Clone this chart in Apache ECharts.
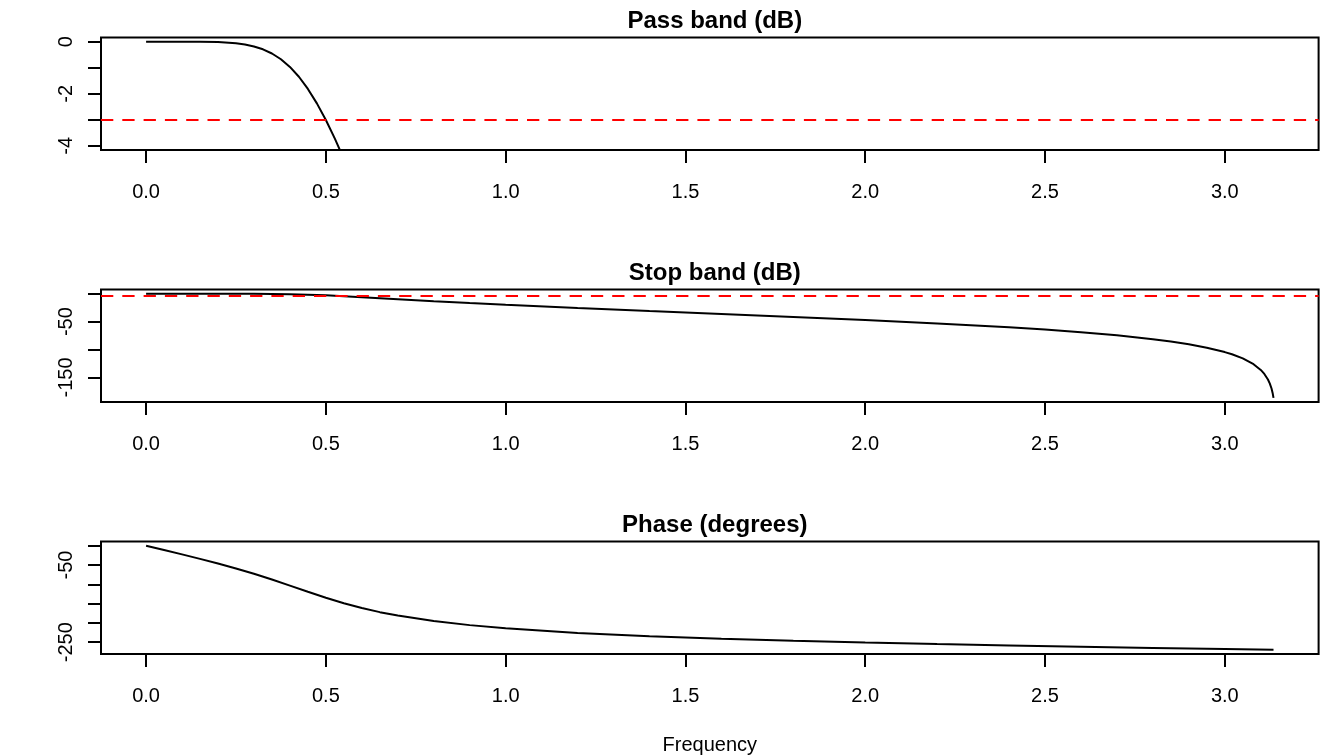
<!DOCTYPE html>
<html>
<head>
<meta charset="utf-8">
<title>Filter response</title>
<script src="https://cdn.jsdelivr.net/npm/echarts@6/dist/echarts.min.js"></script>
<style>
  html, body { margin: 0; padding: 0; background: #fff; }
  #chart { width: 1344px; height: 756px; }
</style>
</head>
<body>
<div id="chart"></div>
<script>
// values (frequency in rad/sample)
const passFreq = [0, 0.05, 0.1, 0.15, 0.2, 0.25, 0.275, 0.3, 0.325, 0.35, 0.375, 0.4, 0.425, 0.45, 0.475, 0.5, 0.525, 0.55, 0.575];
const passDb = [0, 0, -0.0002, -0.003, -0.016, -0.061, -0.109, -0.183, -0.294, -0.454, -0.676, -0.970, -1.348, -1.815, -2.370, -3.010, -3.725, -4.503, -5.345];

const stopFreq = [0, 0.1, 0.2, 0.3, 0.4, 0.5, 0.6, 0.7, 0.8, 0.9, 1.0, 1.2, 1.4, 1.6, 1.8, 2.0, 2.2, 2.4, 2.5, 2.6, 2.7, 2.8, 2.85, 2.9, 2.95, 3.0, 3.02, 3.05, 3.08, 3.1, 3.11, 3.12, 3.125, 3.13, 3.133, 3.1355];
const stopDb = [0, -0.0002, -0.016, -0.183, -0.970, -3.010, -6.192, -9.794, -13.346, -16.706, -19.864, -25.694, -31.103, -36.335, -41.598, -47.117, -53.171, -60.190, -64.283, -68.966, -74.505, -81.367, -85.56, -90.522, -96.61, -104.529, -108.51, -115.905, -126.26, -136.49, -143.66, -153.58, -160.44, -169.78, -177.59, -186.4];

const phaseFreq = [0, 0.05, 0.1, 0.15, 0.2, 0.25, 0.3, 0.35, 0.4, 0.45, 0.5, 0.55, 0.6, 0.65, 0.7, 0.8, 0.9, 1.0, 1.2, 1.4, 1.6, 1.8, 2.0, 2.2, 2.4, 2.6, 2.8, 3.0, 3.1355];
const phaseDeg = [0, -11.24, -22.61, -34.26, -46.38, -59.20, -72.96, -87.77, -103.47, -119.50, -135.00, -149.17, -161.57, -172.26, -181.16, -195.32, -205.88, -214.07, -226.09, -234.67, -241.27, -246.61, -251.13, -255.07, -258.61, -261.87, -264.95, -267.92, -269.91];

const cutoffDb = -3;

const xTicks = [0, 0.5, 1.0, 1.5, 2.0, 2.5, 3.0];
const passTicks = [-4, -3, -2, -1, 0];
const passLabels = [-4, -2, 0];
const stopTicks = [-150, -100, -50, 0];
const stopLabels = [-150, -50];
const phaseTicks = [-250, -200, -150, -100, -50, 0];
const phaseLabels = [-250, -50];

const titles = ['Pass band (dB)', 'Stop band (dB)', 'Phase (degrees)'];

const FONT = '"Liberation Sans", Arial, Helvetica, sans-serif';
const panelTops = [37.5, 289.5, 541.5];
const panelH = 112.5;
const plotLeft = 101;
const plotW = 1217.6;

const chart = echarts.init(document.getElementById('chart'));

const xAxis = panelTops.map((t, i) => ({
    type: 'value',
    gridIndex: i,
    min: -0.1254,
    max: 3.2609,
    axisLine: { show: false, onZero: false },
    splitLine: { show: false },
    axisTick: {
        show: true,
        customValues: xTicks,
        length: 13,
        lineStyle: { color: '#000', width: 2 }
    },
    axisLabel: {
        customValues: xTicks,
        formatter: v => v.toFixed(1),
        color: '#000',
        fontSize: 20,
        fontFamily: FONT,
        margin: 32
    },
    name: i === 2 ? 'Frequency' : '',
    nameLocation: 'middle',
    nameGap: 81,
    nameTextStyle: { color: '#000', fontSize: 20, fontFamily: FONT }
}));

const yDefs = [
    { min: -4.16, max: 0.16, ticks: passTicks, labels: passLabels },
    { min: -193.86, max: 7.46, ticks: stopTicks, labels: stopLabels },
    { min: -280.7, max: 10.8, ticks: phaseTicks, labels: phaseLabels }
];

const yAxis = yDefs.map((d, i) => ({
    type: 'value',
    gridIndex: i,
    min: d.min,
    max: d.max,
    axisLine: { show: false, onZero: false },
    splitLine: { show: false },
    axisTick: {
        show: true,
        customValues: d.ticks,
        length: 13,
        lineStyle: { color: '#000', width: 2 }
    },
    axisLabel: {
        customValues: d.labels,
        rotate: 90,
        color: '#000',
        fontSize: 20,
        fontFamily: FONT,
        margin: 25
    }
}));

// dashed -3 dB reference line
const redLine = {
    silent: true,
    symbol: 'none',
    label: { show: false },
    lineStyle: { color: '#FF0000', type: [12.3, 9], width: 2 },
    data: [{ yAxis: cutoffDb }]
};

const lineStyle = { color: '#000', width: 2 };

const option = {
    animation: false,
    backgroundColor: '#fff',
    title: titles.map((t, i) => ({
        text: t,
        left: plotLeft + plotW / 2,
        textAlign: 'center',
        top: panelTops[i] - 33,
        textStyle: { fontSize: 24, fontWeight: 'bold', color: '#000', fontFamily: FONT }
    })),
    grid: panelTops.map(t => ({
        left: plotLeft,
        top: t,
        width: plotW,
        height: panelH,
        show: true,
        borderColor: '#000',
        borderWidth: 2,
        backgroundColor: 'transparent'
    })),
    xAxis: xAxis,
    yAxis: yAxis,
    series: [
        {
            type: 'line',
            xAxisIndex: 0,
            yAxisIndex: 0,
            data: passFreq.map((f, k) => [f, passDb[k]]),
            showSymbol: false,
            clip: true,
            lineStyle: lineStyle,
            markLine: redLine
        },
        {
            type: 'line',
            xAxisIndex: 1,
            yAxisIndex: 1,
            data: stopFreq.map((f, k) => [f, stopDb[k]]),
            showSymbol: false,
            clip: true,
            lineStyle: lineStyle,
            markLine: redLine
        },
        {
            type: 'line',
            xAxisIndex: 2,
            yAxisIndex: 2,
            data: phaseFreq.map((f, k) => [f, phaseDeg[k]]),
            showSymbol: false,
            clip: true,
            lineStyle: lineStyle
        }
    ]
};

chart.setOption(option);
</script>
</body>
</html>
